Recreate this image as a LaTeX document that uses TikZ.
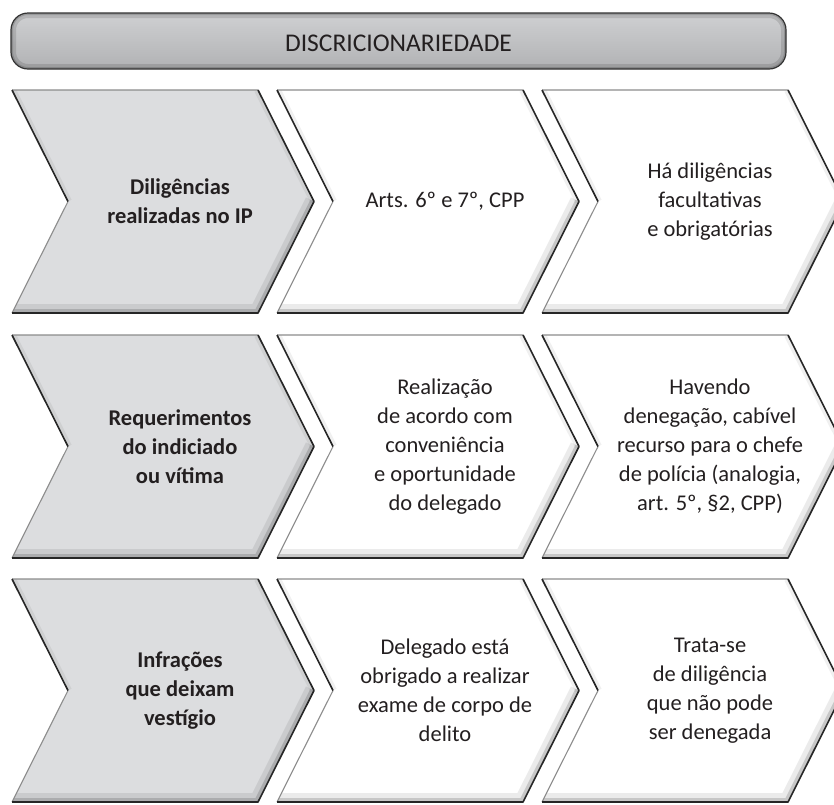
\documentclass[tikz,border=0pt]{standalone}
\usepackage{fontspec}
\setmainfont{Carlito}
\usetikzlibrary{calc}
\definecolor{inkgray}{HTML}{231F20}
\definecolor{boxgray}{HTML}{DCDDDF}
\definecolor{edgegray}{HTML}{8C8C8C}
\definecolor{bartop}{HTML}{CFD0D2}
\definecolor{barbottom}{HTML}{B1B2B4}

\begin{document}
\begin{tikzpicture}[x=1pt,y=-1pt]
  \tikzset{txt/.style = {align=center, text=inkgray, font=\fontsize{22.5}{29}\selectfont}}
  \tikzset{headtxt/.style = {txt, font=\bfseries\fontsize{22.5}{29}\selectfont}}
  \tikzset{lightedge/.style = {draw=edgegray, line width=1.1pt}}
  \tikzset{darkedge/.style = {draw=black!85, line width=1.6pt, line join=round}}
  \useasboundingbox (0,0) rectangle (834,804);

  % barra do titulo
  \shade[top color=bartop, bottom color=barbottom, rounded corners=17pt] (11,13) rectangle (786,69);
  \begin{scope}
    \clip[rounded corners=17pt] (11,13) rectangle (786,69);
    \draw[black, opacity=0.12, line width=10pt, rounded corners=17pt] (11,13) rectangle (786,69);
    \draw[black, opacity=0.15, line width=4pt, rounded corners=17pt] (11,13) rectangle (786,69);
  \end{scope}
  \draw[black!80, line width=1.2pt, rounded corners=17pt] (11,13) rectangle (786,69);
  \node[txt, font=\fontsize{25.5}{30}\selectfont] (titulo) at (398.5,43) {DISCRICIONARIEDADE};

  % setas
  \foreach \yt in {90, 335, 579} {
    \foreach \xl/\fc in {12/boxgray, 277/white, 542/white} {
      \coordinate (A) at (\xl,\yt);
      \coordinate (B) at (\xl+246,\yt);
      \coordinate (C) at (\xl+302,\yt+111.5);
      \coordinate (E) at (\xl+246,\yt+223);
      \coordinate (F) at (\xl,\yt+223);
      \coordinate (G) at (\xl+56,\yt+111.5);
      \fill[\fc] (A) -- (B) -- (C) -- (E) -- (F) -- (G) -- cycle;
      \begin{scope}
        \clip (A) -- (B) -- (C) -- (E) -- (F) -- (G) -- cycle;
        \draw[black, opacity=0.08, line width=18pt] (C) -- (E) -- (F);
        \draw[black, opacity=0.15, line width=8pt] (C) -- (E) -- (F);
        \draw[black, opacity=0.06, line width=8pt] (A) -- (G) (B) -- (C);
      \end{scope}
      \draw[lightedge] (B) -- (A) (G) -- (F);
      \draw[darkedge] (A) -- (G) (B) -- (C) -- (E) -- (F);
    }
  }

  % textos
  \node[headtxt] (dil) at (180,201.5) {Diligências\\realizadas no IP};
  \node[txt] (arts) at (445,201.5) {Arts. 6º e 7º, CPP};
  \node[txt] (fac) at (710,201.5) {Há diligências\\facultativas\\e obrigatórias};

  \node[headtxt] (req) at (180,446.5) {Requerimentos\\do indiciado\\ou vítima};
  \node[txt] (conv) at (445,446.5) {Realização\\de acordo com\\conveniência\\e oportunidade\\do delegado};
  \node[txt] (rec) at (710,446.5) {Havendo\\denegação, cabível\\recurso para o chefe\\de polícia (analogia,\\art. 5º, §2, CPP)};

  \node[headtxt] (inf) at (180,690.5) {Infrações\\que deixam\\vestígio};
  \node[txt] (exa) at (445,690.5) {Delegado está\\obrigado a realizar\\exame de corpo de\\delito};
  \node[txt] (den) at (710,690.5) {Trata-se\\de diligência\\que não pode\\ser denegada};
\end{tikzpicture}
\end{document}
